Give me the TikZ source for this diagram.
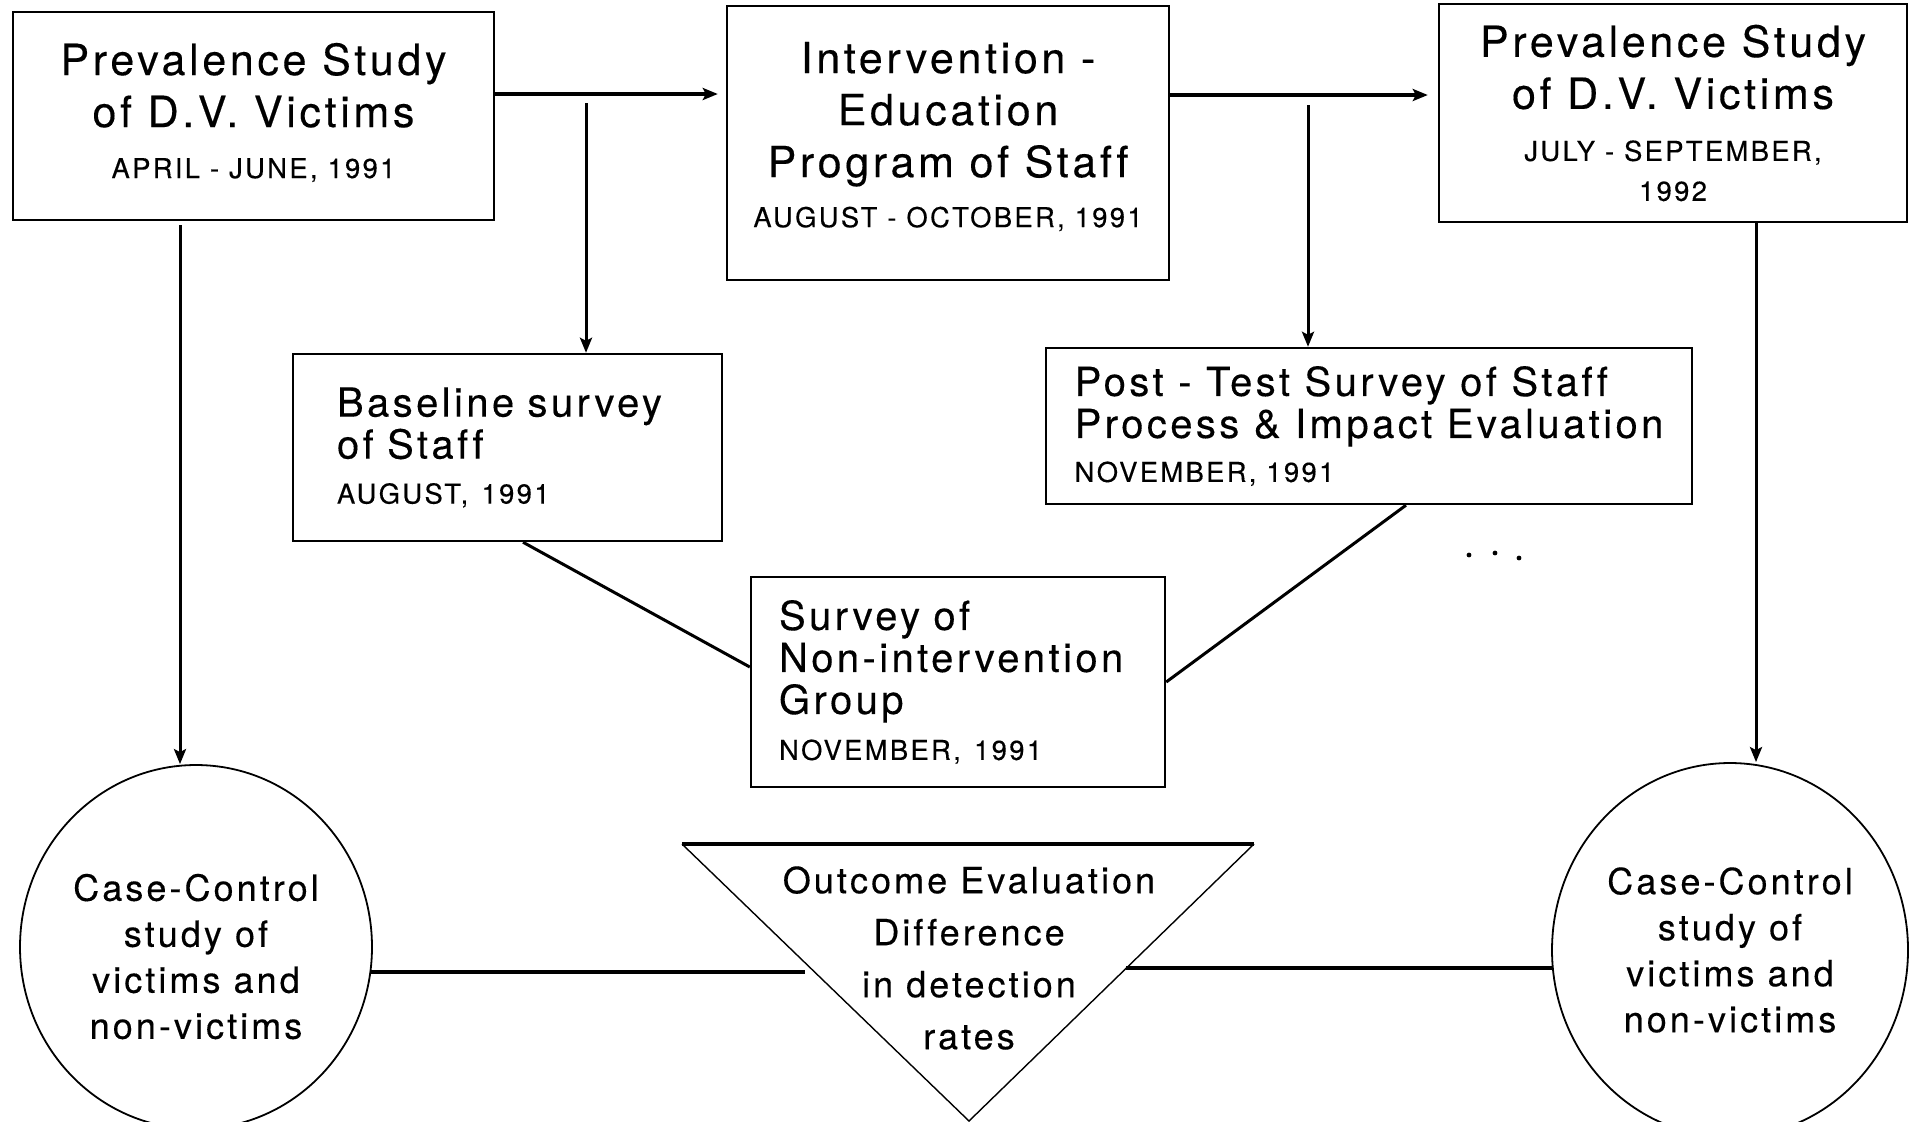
\documentclass[tikz,border=0pt]{standalone}
\usepackage{fontspec}
\setmainfont{TeX Gyre Heros}[LetterSpace=8.5,Ligatures=NoCommon,FakeBold=0.3]
\usetikzlibrary{calc,shapes.geometric,arrows.meta}

\newcommand{\bigtxt}{\fontsize{21.5}{26}\selectfont}
\newcommand{\midtxt}{\fontsize{20}{21}\selectfont}
\newcommand{\datetxt}{\fontsize{13.7}{20}\selectfont}

\begin{document}
\begin{tikzpicture}[x=0.5pt,y=-0.5pt,
    box/.style={draw,line width=1.2pt,inner sep=0pt},
    bigbox/.style={box,align=center,font=\bigtxt},
    leftbox/.style={box,align=left,font=\midtxt},
    study/.style={draw,ellipse,line width=0.9pt,inner sep=0pt,align=center,
                  font=\fontsize{18}{23}\selectfont},
    link/.style={line width=1.5pt},
    heavy/.style={line width=2pt},
    >={Stealth[length=7.5pt,width=6pt,inset=1.5pt]}]
\path[use as bounding box,fill=white] (0,0) rectangle (1909,1121);
\clip (0,0) rectangle (1909,1121);

% top row
\node[bigbox,minimum width=240.5pt,minimum height=104pt] (prevA) at (253.5,116)
  {Prevalence Study\\of D.V. Victims\\[-0.5pt]{\datetxt APRIL - JUNE, 1991}\\[-20.5pt]{}};
\node[bigbox,minimum width=221pt,minimum height=137pt] (interv) at (948,143)
  {Intervention -\\Education\\Program of Staff\\[-1pt]{\datetxt AUGUST - OCTOBER, 1991}\\[-17.5pt]{}};
\node[bigbox,minimum width=234pt,minimum height=109pt] (prevC) at (1673,113)
  {Prevalence Study\\of D.V. Victims\\[0pt]{\datetxt JULY - SEPTEMBER,}\\[-6pt]{\datetxt 1992}};

% surveys
\node[leftbox,inner xsep=22pt,text width=170.5pt,minimum height=93.5pt] (baseline) at (507.5,447.5)
  {Baseline survey\\of Staff\\[1.5pt]{\datetxt AUGUST, 1991}};
\node[leftbox,minimum width=323pt,minimum height=78pt] (posttest) at (1369,426)
  {Post - Test Survey of Staff\\Process \& Impact Evaluation\\[1pt]{\datetxt NOVEMBER, 1991}};
\node[leftbox,inner xsep=14pt,text width=179pt,minimum height=105pt] (nonint) at (958,682)
  {Survey of\\Non-intervention\\Group\\[2pt]{\datetxt NOVEMBER, 1991}};

% case-control studies
\node[study,minimum width=176pt,minimum height=182pt] (caseL) at (196,947)
  {{}\\Case-Control\\study of\\victims and\\non-victims};
\node[study,minimum width=178pt,minimum height=187pt] (caseR) at (1730,950)
  {Case-Control\\study of\\victims and\\non-victims};

% outcome triangle
\coordinate (triL) at (682,844);
\coordinate (triR) at (1254,844);
\coordinate (triB) at (969,1121);
\draw[line width=0.7pt] (triL) -- (triB) -- (triR);
\draw[heavy] (triL) -- (triR);
\node[font=\fontsize{18}{26}\selectfont,align=center] (outcome) at (969,958)
  {Outcome Evaluation\\Difference\\in detection\\rates};

% connectors
\coordinate (rowAB) at (586,94);
\coordinate (rowBC) at (1308,95);
\coordinate (downL) at (180,0);
\coordinate (downR) at (1756,0);
\draw[heavy,->,shorten >=4pt] (prevA.east |- rowAB) -- (interv.west |- rowAB);
\draw[heavy,->,shorten >=5pt] (interv.east |- rowBC) -- (prevC.west |- rowBC);
\draw[link,->] ([yshift=-4.5pt]rowAB) -- (rowAB |- baseline.north);
\draw[link,->] ([yshift=-5pt]rowBC) -- (rowBC |- posttest.north);
\draw[link,->,shorten <=2pt] (prevA.south -| downL) -- (downL |- caseL.north);
\draw[link,->] (prevC.south -| downR) -- (downR |- caseR.north);
\draw[link] ($(baseline.south west)!0.536!(baseline.south east)$) -- ([yshift=7.5pt]nonint.west);
\draw[link] ($(posttest.south west)!0.557!(posttest.south east)$) -- (nonint.east);

\coordinate (lowL) at ($(triL)!0.458!(triB)$);
\coordinate (lowR) at ($(triR)!0.448!(triB)$);
\draw[heavy,shorten >=4pt] (caseL.-8) -- (caseL.-8 -| lowL);
\draw[heavy] (lowR) -- (lowR -| caseR.186);

\foreach \x/\y in {1469/555,1495/553,1519/558}
  \fill (\x,\y) circle (1.2pt);
\end{tikzpicture}
\end{document}
